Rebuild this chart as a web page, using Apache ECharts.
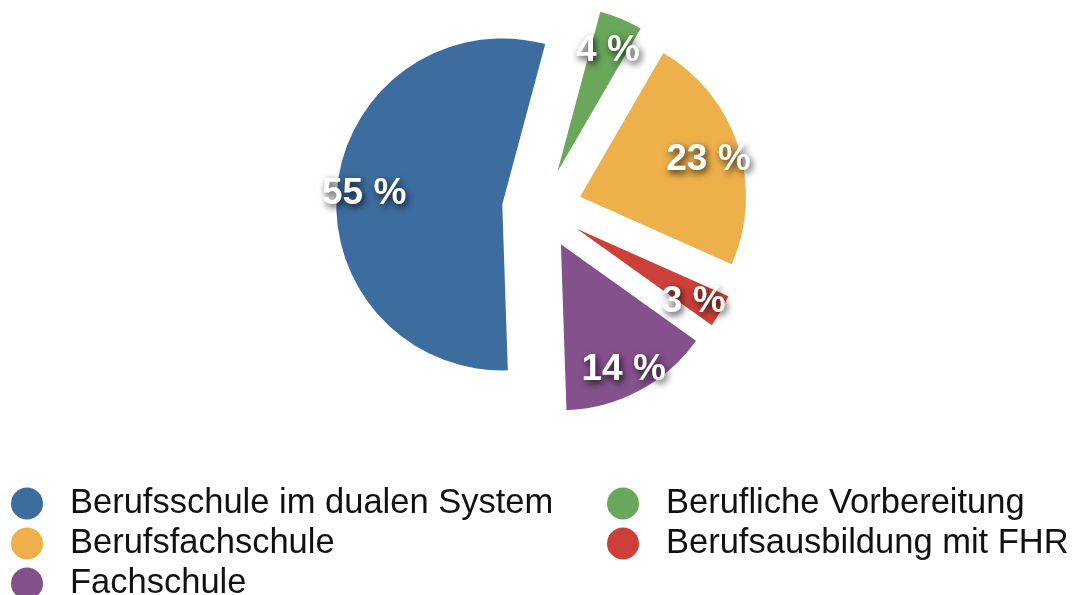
<!DOCTYPE html>
<html>
<head>
<meta charset="utf-8">
<script src="https://cdn.jsdelivr.net/npm/echarts@6/dist/echarts.min.js"></script>
<style>
  html, body { margin: 0; padding: 0; background: #fff; }
  #chart { width: 1073px; height: 595px; }
</style>
</head>
<body>
<div id="chart"></div>
<script>
// Anteile (%), im Uhrzeigersinn ab oben
const names = ['Berufliche Vorbereitung', 'Berufsfachschule', 'Berufsausbildung mit FHR', 'Fachschule', 'Berufsschule im dualen System']
const values = [4.2, 23.3, 3.2, 14.6, 54.7]
const labels = ['4 %', '23 %', '3 %', '14 %', '55 %']
const colors = ['#6aa75a', '#edb04b', '#cc4039', '#85518d', '#3d6c9e']
const legendLeft = ['Berufsschule im dualen System', 'Berufsfachschule', 'Fachschule']
const legendRight = ['Berufliche Vorbereitung', 'Berufsausbildung mit FHR']

const font = '"Liberation Sans", Helvetica, Arial, sans-serif'

const chart = echarts.init(document.getElementById('chart'))

const pieData = names.map((n, i) => ({
  name: n,
  value: values[i],
  selected: true,
  itemStyle: { color: colors[i] }
}))

// nur Beschriftungen, weiter außen als "inside" normal
const labelData = names.map((n, i) => ({
  name: n,
  value: values[i],
  selected: true,
  itemStyle: { color: 'rgba(0,0,0,0)' },
  label: { formatter: labels[i] }
}))

// horizontal + schmale Breite => ein Eintrag pro Zeile
const legendBase = {
  orient: 'horizontal',
  top: 486,
  padding: 0,
  icon: 'circle',
  itemWidth: 32,
  itemHeight: 32,
  itemGap: 5,
  selectedMode: false,
  textStyle: {
    fontFamily: font,
    fontSize: 34.5,
    color: '#111',
    lineHeight: 32,
    padding: [0, 0, 0, 22]
  }
}

const option = {
  animation: false,
  legend: [
    { ...legendBase, left: 11, width: 550, data: legendLeft },
    { ...legendBase, left: 607, width: 465, data: legendRight }
  ],
  series: [
    {
      type: 'pie',
      center: [542, 209],
      radius: 166,
      startAngle: 75,
      selectedMode: 'multiple',
      selectedOffset: 40,
      silent: true,
      label: { show: false },
      labelLine: { show: false },
      emphasis: { disabled: true },
      data: pieData
    },
    {
      type: 'pie',
      center: [540, 214],
      radius: [102, 166],
      startAngle: 75,
      selectedMode: 'multiple',
      selectedOffset: 40,
      silent: true,
      emphasis: { disabled: true },
      labelLine: { show: false },
      label: {
        show: true,
        position: 'inside',
        fontFamily: font,
        fontSize: 37,
        fontWeight: 'bold',
        color: '#fff',
        textShadowColor: 'rgba(0,0,0,0.8)',
        textShadowBlur: 7,
        textShadowOffsetX: 2,
        textShadowOffsetY: 3
      },
      data: labelData
    }
  ]
}

chart.setOption(option)
window.addEventListener('resize', () => chart.resize())
</script>
</body>
</html>
